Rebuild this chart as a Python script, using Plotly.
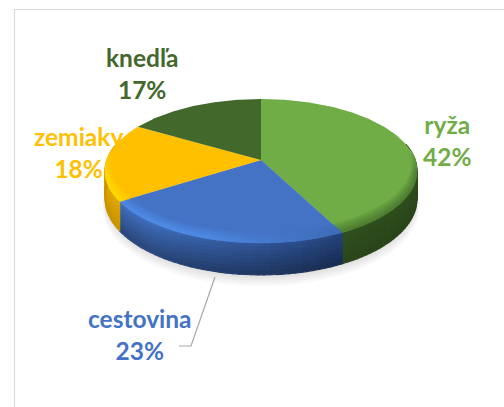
import math
import plotly.graph_objects as go

categories = ["ryža", "cestovina", "zemiaky", "knedľa"]
shares = [42.49, 23.4, 17.6, 16.51]

top_colors = ["#70AD47", "#4472C4", "#FFC000", "#43682B"]
rim_lit = ["#5F9A3E", "#4F8BE6", "#FFD800", "#43682B"]
rim_dim = ["#4F7E33", "#3C68B0", "#F5BC00", "#43682B"]
side_lit = ["#3A5F26", "#3F6CB8", "#E3A800", "#2F4A1E"]
side_dim = ["#2F4E1E", "#1F3A6E", "#C99500", "#2F4A1E"]
label_colors = ["#70AD47", "#4472C4", "#FFC000", "#43682B"]

CX, CY, A, B, K = 261.0, 160.0, 154.2, 70.3, 0.153
DEPTH = 27.0


def proj(theta, r=1.0, dy=0.0):
    X, Y = r * math.sin(theta), r * math.cos(theta)
    s = 1 / (1 + K * Y)
    return CX + A * X * s, CY - B * Y * s + dy * s


def inset(theta, u):
    """Radius of the bevel band: u=1 on the rim, u=0 at its inner edge."""
    return 1 - (1 - u) * (0.025 + 0.085 * abs(math.cos(theta)))


def hexrgb(c):
    return [int(c[i:i + 2], 16) for i in (1, 3, 5)]


def mix(c1, c2, t):
    t = max(0.0, min(1.0, t))
    a, b = hexrgb(c1), hexrgb(c2)
    return "#%02X%02X%02X" % tuple(round(a[i] + (b[i] - a[i]) * t) for i in range(3))


fig = go.Figure()


def poly(xs, ys, color, seam=0.8, opacity=None):
    fig.add_trace(go.Scatter(
        x=xs + xs[:1], y=ys + ys[:1], mode="lines", fill="toself", fillcolor=color,
        line=dict(color=color, width=seam), hoverinfo="skip", showlegend=False,
        opacity=opacity,
    ))


# soft shadow under the disc
ts = [i * 2 * math.pi / 180 for i in range(180)]
for i in range(7):
    pts = [proj(t, 1.016 - 0.006 * i, DEPTH + 8 - i * 1.6) for t in ts]
    poly([p[0] for p in pts], [p[1] for p in pts], "#000000", 0, 0.028)

total = sum(shares)
edges = [0.0]
for v in shares:
    edges.append(edges[-1] + v / total * 2 * math.pi)

# outer wall
N_BANDS = 8
for i in range(len(shares)):
    a0, a1 = edges[i], edges[i + 1]
    n = max(2, int((a1 - a0) / math.radians(2)))
    for j in range(n):
        t0 = a0 + (a1 - a0) * j / n
        t1 = a0 + (a1 - a0) * (j + 1) / n
        if math.cos((t0 + t1) / 2) > 0.25:
            continue
        deg = math.degrees((t0 + t1) / 2)
        lit = (deg - 140) / 80
        base = mix(side_dim[i], side_lit[i], lit)
        low = mix(base, "#000000", 0.32 if i == 1 else 0.12)
        for b in range(N_BANDS):
            d0, d1 = DEPTH * b / N_BANDS, DEPTH * (b + 1) / N_BANDS
            p = [proj(t0, 1, d0), proj(t1, 1, d0), proj(t1, 1, d1), proj(t0, 1, d1)]
            poly([q[0] for q in p], [q[1] for q in p], mix(base, low, b / (N_BANDS - 1)), 1.2)

# top faces
for i in range(len(shares)):
    a0, a1 = edges[i], edges[i + 1]
    n = max(2, int((a1 - a0) / math.radians(1)))
    pts = [proj(a0 + (a1 - a0) * j / n) for j in range(n + 1)]
    poly([CX] + [p[0] for p in pts], [CY] + [p[1] for p in pts], top_colors[i], 0)

# bevel along the front rim, kept inside each wedge
N_BEV = 5
for i in range(len(shares)):
    a0, a1 = edges[i], edges[i + 1]
    n = max(2, int((a1 - a0) / math.radians(2)))
    for j in range(n):
        t0 = a0 + (a1 - a0) * j / n
        t1 = a0 + (a1 - a0) * (j + 1) / n
        tm = (t0 + t1) / 2
        w = (0.12 - math.cos(tm)) / 0.3
        if w <= 0:
            continue
        rim = mix(rim_dim[i], rim_lit[i], (math.degrees(tm) - 150) / 50)
        for b in range(N_BEV):
            u0, u1 = b / N_BEV, (b + 1) / N_BEV
            p = [proj(t0, inset(t0, u0)), proj(t1, inset(t1, u0)),
                 proj(t1, inset(t1, u1)), proj(t0, inset(t0, u1))]
            poly([q[0] for q in p], [q[1] for q in p],
                 mix(top_colors[i], rim, min(w, 1) * u1 ** 0.8), 0.5)

# leader line for the lower label
fig.add_trace(go.Scatter(x=[215, 191, 179], y=[277, 346, 346], mode="lines",
                         line=dict(color="#A6A6A6", width=1.2),
                         hoverinfo="skip", showlegend=False))

label_pos = [(447, 140), (140, 334), (78, 152), (142, 73)]
annotations = [
    dict(x=x, y=y, xref="x", yref="y", showarrow=False, align="center",
         text=f"<b>{c}<br>{round(v)}%</b>", font=dict(family="Lato", size=24.5, color=col))
    for (x, y), c, v, col in zip(label_pos, categories, shares, label_colors)
]

fig.update_layout(
    width=504, height=407, margin=dict(l=0, r=0, t=0, b=0),
    paper_bgcolor="#FFFFFF", plot_bgcolor="#FFFFFF", showlegend=False,
    xaxis=dict(range=[0, 504], visible=False, fixedrange=True),
    yaxis=dict(range=[407, 0], visible=False, fixedrange=True),
    annotations=annotations,
    shapes=[dict(type="path", path="M 504 9.5 L 14.5 9.5 L 14.5 407",
                 line=dict(color="#D9D9D9", width=1.2), layer="below")],
)

fig.write_html("out.html", config=dict(displayModeBar=False),
               post_script="document.body.style.margin='0';document.body.style.overflow='hidden';")
